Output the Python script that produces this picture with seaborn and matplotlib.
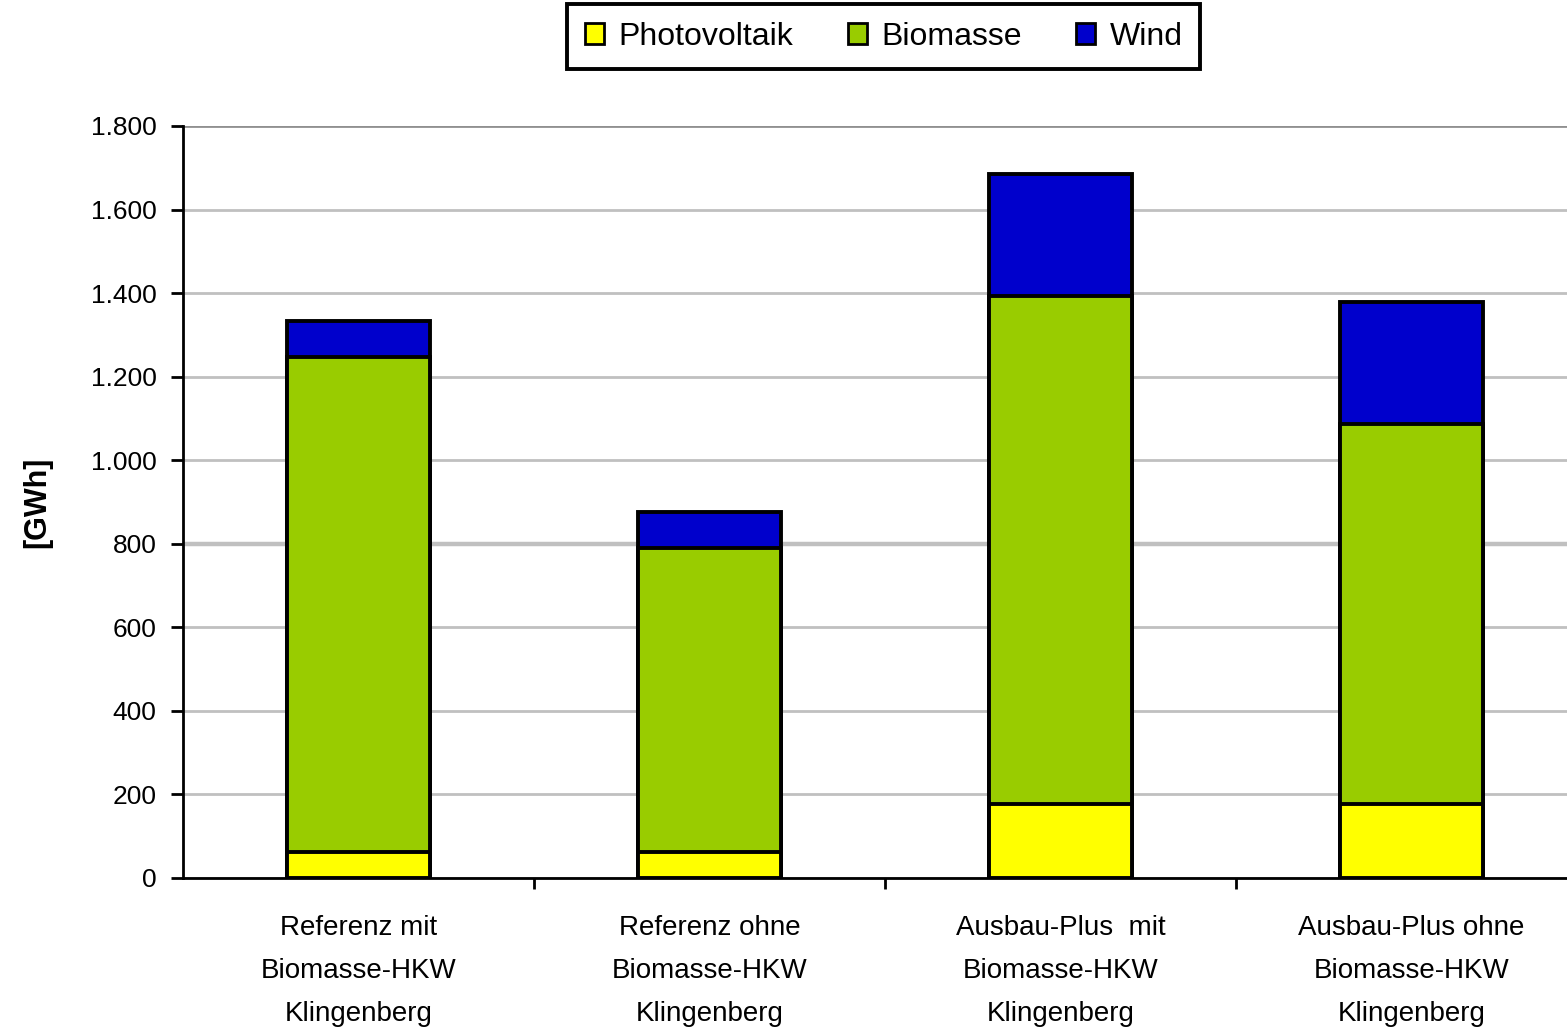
import matplotlib
matplotlib.use("Agg")
import matplotlib.pyplot as plt
import matplotlib.ticker as mticker
from matplotlib.patches import Patch
import seaborn as sns
import pandas as pd
import numpy as np

categories = ["Referenz mit\nBiomasse-HKW\nKlingenberg",
              "Referenz ohne\nBiomasse-HKW\nKlingenberg",
              "Ausbau-Plus  mit\nBiomasse-HKW\nKlingenberg",
              "Ausbau-Plus ohne\nBiomasse-HKW\nKlingenberg"]
photovoltaik = [63, 63, 178, 178]
biomasse = [1185, 727, 1215, 908]
wind = [85, 85, 293, 293]
series_names = ["Photovoltaik", "Biomasse", "Wind"]
colors = ["#FFFF00", "#99CC00", "#0000CC"]
y_ticks = [0, 200, 400, 600, 800, 1000, 1200, 1400, 1600, 1800]

sns.set_theme(style="white")
plt.rcParams['font.family'] = ['Liberation Sans', 'DejaVu Sans']

df = pd.DataFrame({"cat": categories, "Photovoltaik": photovoltaik,
                   "Biomasse": biomasse, "Wind": wind})
df["c1"] = df["Photovoltaik"]
df["c2"] = df["c1"] + df["Biomasse"]
df["c3"] = df["c2"] + df["Wind"]

fig = plt.figure(figsize=(15.67, 10.30), dpi=100)
ax = fig.add_axes([0.1168, 0.1476, 0.8832, 0.7301])

bw = 0.405
for col, colr in zip(["c3", "c2", "c1"], colors[::-1]):
    sns.barplot(data=df, x="cat", y=col, color=colr, width=bw, ax=ax,
                edgecolor="black", linewidth=2.8, saturation=1, errorbar=None)

ax.set_xlim(-0.5, 3.443)
ax.set_ylim(0, 1800)
ax.set_yticks(y_ticks)
ax.yaxis.set_major_formatter(mticker.FuncFormatter(lambda v, p: f"{int(v):,}".replace(",", ".")))
ax.yaxis.grid(True, color="#c0c0c0", linewidth=2)
ax.set_axisbelow(True)
gl = ax.get_ygridlines()
gl[4].set_linewidth(3.2)
gl[-1].set_color("#909090")

for s in ["top", "right"]:
    ax.spines[s].set_visible(False)
for s in ["left", "bottom"]:
    ax.spines[s].set_color("black")
    ax.spines[s].set_linewidth(2)

ax.tick_params(axis="y", which="major", direction="out", length=9, width=2,
               color="black", left=True, labelsize=19, pad=10, labelcolor="black")
ax.tick_params(axis="x", which="major", length=0, labelsize=20, pad=27, labelcolor="black")
ax.set_xticks([0.5, 1.5, 2.5], minor=True)
ax.tick_params(axis="x", which="minor", direction="out", length=8, width=2,
               color="black", bottom=True)
for t in ax.get_xticklabels():
    t.set_linespacing(1.85)

ax.set_xlabel("")
ax.set_ylabel("[GWh]", fontsize=22, fontweight="bold", labelpad=28, color="black")

handles = [Patch(facecolor=c, edgecolor="black", linewidth=2) for c in colors]
leg = fig.legend(handles, series_names, loc="upper center", bbox_to_anchor=(0.564, 0.999),
                 ncol=3, frameon=True, fancybox=False, framealpha=1, fontsize=23,
                 handlelength=0.6, handleheight=0.6, handletextpad=0.45,
                 columnspacing=1.7, borderpad=0.55, borderaxespad=0.1)
leg.get_frame().set_edgecolor("black")
leg.get_frame().set_linewidth(2.8)
for t in leg.get_texts():
    t.set_color("black")

fig.savefig("out.png", dpi=100)
